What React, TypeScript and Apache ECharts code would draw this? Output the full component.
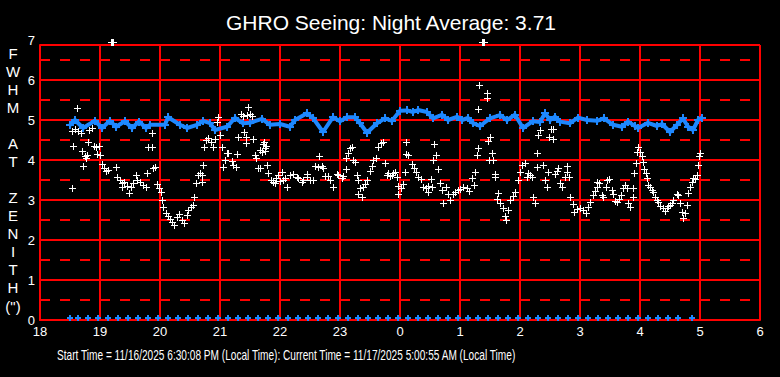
import React, { useEffect, useRef } from 'react';
import * as echarts from 'echarts';

const TITLE = 'GHRO Seeing: Night Average: 3.71';
const FOOTER = 'Start Time = 11/16/2025 6:30:08 PM (Local Time): Current Time = 11/17/2025 5:00:55 AM (Local Time)';
const Y_TITLE_LINES = ['F', 'W', 'H', 'M', '', 'A', 'T', '', 'Z', 'E', 'N', 'I', 'T', 'H', '(")'];
const START_HOUR = 18;
const X_MAX = 720; // minutes after 18:00
const Y_TOP_LABEL = '7';
const HALF_LINES = [0.5, 1.5, 2.5, 3.5, 4.5, 5.5, 6.5];

// [minutes after 18:00, FWHM arcsec] individual seeing samples (white)
const seeingSamples: [number, number][] = [
  [32, 4.73], [35, 4.78], [37, 5.3], [38, 4.73], [41, 4.68], [33, 4.35], [32, 3.3], [42, 4.22], [43, 3.85], [45, 4.1],
  [46, 4.05], [47, 4.12], [48, 4.45], [49, 4.75], [52, 4.8], [54, 4.35], [56, 4.32], [57, 4.15], [59, 4.35], [60, 4.12],
  [62, 3.9], [64, 3.8], [66, 3.72], [68, 3.75], [71, 6.95], [72, 6.95], [73, 6.95], [76, 3.82], [77, 3.58], [80, 3.5], [82, 3.42], [82, 3.33],
  [84, 3.45], [87, 3.35], [89, 3.17], [91, 3.33], [93, 3.42], [96, 3.62], [97, 3.5], [100, 3.45], [103, 3.37], [106, 3.33],
  [107, 3.67], [108, 4.33], [112, 4.33], [112, 4.67], [113, 3.8], [115, 3.83], [117, 3.4], [119, 3.3], [121, 3.2], [122, 3.0],
  [123, 2.83], [126, 2.67], [128, 2.6], [130, 2.52], [132, 2.45], [134, 2.38], [137, 2.58], [139, 2.65], [142, 2.5], [144, 2.43],
  [147, 2.63], [148, 2.75], [151, 2.83], [153, 2.88], [154, 3.08], [156, 3.42], [158, 3.62], [160, 3.67], [162, 3.62], [162, 3.45],
  [163, 3.87], [164, 4.33], [166, 4.5], [168, 4.55], [171, 4.45], [173, 4.33], [175, 4.52], [177, 4.95], [178, 5.08], [180, 4.62],
  [182, 4.33], [183, 3.83], [185, 4.0], [187, 4.17], [188, 4.17], [192, 3.98], [193, 3.87], [196, 3.82], [197, 4.15], [198, 4.58],
  [201, 5.15], [203, 5.1], [204, 4.7], [206, 4.58], [206, 4.42], [207, 5.12], [208, 5.33], [210, 5.15], [212, 5.1], [213, 4.52],
  [215, 4.12], [216, 4.05], [218, 3.8], [220, 3.8], [222, 4.2], [223, 4.4], [224, 4.45], [226, 4.35], [227, 3.87], [228, 3.67],
  [231, 3.5], [233, 3.45], [235, 3.43], [236, 3.55], [238, 3.62], [240, 3.48], [220, 4.25], [225, 4.3], [225, 4.22], [242, 3.7],
  [243, 3.5], [245, 3.55], [247, 3.33], [250, 3.62], [253, 3.65], [257, 3.58], [258, 3.55], [262, 3.45], [263, 3.5], [267, 3.65],
  [267, 3.58], [270, 3.5], [273, 3.5], [275, 3.85], [278, 3.83], [279, 4.1], [282, 3.85], [283, 3.8], [285, 3.6], [288, 3.6],
  [290, 3.5], [293, 3.33], [297, 3.65], [298, 3.62], [302, 3.55], [303, 3.6], [306, 3.77], [306, 4.05], [308, 4.17], [310, 4.3],
  [312, 4.33], [313, 4.0], [315, 3.95], [317, 3.62], [318, 3.5], [320, 3.3], [318, 3.15], [322, 3.08], [323, 3.33], [325, 3.4],
  [327, 3.5], [330, 3.72], [332, 3.85], [333, 4.0], [336, 4.05], [338, 4.33], [341, 4.43], [343, 4.45], [345, 3.93], [347, 3.62],
  [348, 3.67], [350, 3.6], [352, 3.62], [353, 3.67], [355, 3.7], [357, 3.58], [358, 3.35], [358, 3.15], [361, 3.3], [363, 3.4],
  [365, 3.7], [366, 4.45], [366, 4.15], [368, 4.13], [372, 3.9], [374, 3.8], [376, 3.7], [378, 3.58], [381, 3.52], [383, 3.33],
  [386, 3.3], [388, 3.35], [388, 3.2], [391, 3.52], [392, 3.33], [393, 4.0], [394, 4.4], [396, 4.12], [398, 3.77], [400, 3.43],
  [402, 3.25], [403, 2.93], [406, 3.33], [408, 3.15], [410, 3.0], [413, 3.15], [415, 3.2], [418, 3.25], [420, 3.27], [423, 3.33],
  [427, 3.3], [429, 3.23], [432, 3.55], [434, 3.37], [435, 3.7], [437, 4.12], [438, 4.3], [438, 5.27], [439, 5.88], [442, 6.95], [443, 6.95], [444, 6.95],
  [447, 5.67], [447, 5.55], [448, 4.48], [449, 4.0], [450, 4.58], [452, 4.17], [453, 4.0], [455, 3.65], [455, 3.58], [457, 3.03],
  [458, 3.17], [460, 2.93], [463, 2.8], [465, 2.6], [466, 2.5], [468, 2.75], [470, 3.0], [473, 3.1], [475, 3.2], [478, 3.5],
  [480, 3.7], [482, 3.87], [485, 3.92], [487, 3.58], [488, 3.67], [490, 3.63], [492, 3.58], [493, 3.08], [495, 2.93], [497, 3.83],
  [497, 4.17], [498, 4.62], [500, 4.75], [503, 3.87], [505, 3.5], [507, 3.33], [508, 3.7], [509, 4.57], [511, 4.78], [513, 4.78],
  [513, 4.52], [515, 3.65], [517, 3.72], [518, 3.8], [520, 3.42], [522, 3.33], [525, 3.58], [527, 3.7], [527, 3.85], [529, 3.58],
  [530, 3.08], [533, 2.9], [534, 2.7], [537, 2.77], [540, 2.8], [543, 2.75], [546, 2.67], [548, 2.83], [550, 2.95], [553, 3.13],
  [555, 3.23], [557, 3.33], [557, 3.45], [559, 3.42], [562, 3.13], [563, 3.08], [566, 3.33], [567, 3.5], [569, 3.52], [572, 3.25],
  [573, 3.15], [575, 2.98], [577, 2.95], [579, 3.03], [581, 3.13], [583, 3.3], [585, 3.37], [587, 3.3], [588, 2.93], [590, 2.83],
  [593, 3.08], [593, 3.3], [594, 3.67], [596, 3.93], [597, 4.2], [598, 4.33], [600, 4.2], [602, 4.1], [603, 3.95], [604, 3.77],
  [606, 3.67], [607, 3.55], [608, 3.37], [610, 3.33], [612, 3.25], [613, 3.2], [615, 3.08], [617, 3.0], [618, 2.95], [620, 2.85],
  [623, 2.8], [625, 2.73], [627, 2.8], [628, 2.85], [630, 2.88], [632, 2.93], [633, 3.0], [637, 3.15], [638, 3.13], [640, 2.93],
  [642, 2.7], [643, 2.55], [645, 2.67], [647, 2.88], [648, 3.17], [650, 3.33], [652, 3.45], [653, 3.55], [655, 3.52], [657, 3.62],
  [658, 3.87], [659, 4.1], [660, 4.17],
];

// [minutes after 18:00, FWHM arcsec] running average (blue band)
const averageSeeing: [number, number][] = [
  [30, 4.875], [35, 5.0], [43, 4.8], [55, 4.98], [62, 4.8], [70, 4.98], [76, 4.83], [85, 4.97], [92, 4.8], [99, 4.96],
  [106, 4.8], [110, 4.88], [125, 4.88], [128, 5.07], [140, 4.88], [147, 4.8], [157, 4.88], [163, 4.98], [170, 4.92], [175, 4.75],
  [187, 4.83], [195, 5.05], [203, 4.92], [210, 4.93], [222, 5.03], [230, 4.88], [240, 4.9], [250, 4.83], [255, 5.0], [267, 5.17],
  [273, 5.05], [283, 4.7], [293, 5.07], [300, 4.97], [307, 5.07], [315, 5.07], [320, 4.92], [327, 4.68], [337, 4.92], [345, 5.04],
  [352, 4.98], [360, 5.23], [367, 5.24], [373, 5.2], [378, 5.25], [387, 5.2], [393, 5.04], [402, 5.13], [408, 5.0], [417, 5.08],
  [422, 5.0], [428, 5.05], [433, 4.92], [440, 4.85], [450, 5.04], [460, 5.12], [467, 5.0], [475, 5.13], [483, 4.8], [493, 4.97],
  [500, 4.95], [505, 5.17], [510, 5.0], [515, 5.08], [520, 4.96], [530, 4.92], [538, 5.06], [547, 5.0], [557, 4.98], [564, 5.04],
  [573, 4.88], [582, 4.83], [588, 4.96], [595, 4.85], [598, 4.8], [608, 4.93], [617, 4.85], [622, 4.9], [630, 4.7], [637, 4.88],
  [643, 5.04], [648, 4.83], [653, 4.75], [658, 5.0], [662, 5.06],
];

// minutes after 18:00 of the zero-level markers along the bottom
const zeroMinutes = [
  30, 38, 48, 58, 68, 78, 88, 98, 108, 118, 128, 138, 148, 158, 168, 178, 188, 198, 208, 218, 228,
  238, 248, 258, 268, 278, 288, 298, 308, 318, 328, 338, 348, 358, 368, 378, 388, 398, 408, 418, 428,
  438, 448, 458, 468, 478, 488, 498, 508, 518, 528, 538, 548, 558, 568, 578, 588, 598, 608, 618, 628,
  638, 652,
];
const zeroValues = zeroMinutes.map(() => 0);

const FONT = '"Liberation Sans", Arial, sans-serif';
const RED = '#ff0000';
const BLUE = '#1e88ff';

// crisp "+" marker drawn at the pixel given by the axes' scales
function plusRenderer(fill: string, half: number, thick: number, dy: number) {
  return (params: any, api: any) => {
    const p = api.coord([api.value(0), api.value(1)]);
    const x = Math.round(p[0]);
    const y = Math.round(p[1]) + dy;
    const t0 = Math.floor(thick / 2);
    return {
      type: 'group',
      children: [
        { type: 'rect', shape: { x: x - half, y: y - t0, width: half * 2 + (thick % 2), height: thick }, style: { fill } },
        { type: 'rect', shape: { x: x - t0, y: y - half, width: thick, height: half * 2 + (thick % 2) }, style: { fill } },
      ],
    };
  };
}

export default function App() {
  const ref = useRef<HTMLDivElement>(null);
  useEffect(() => {
    document.body.style.margin = '0';
    document.body.style.background = '#000';
    if (!ref.current) return;
    const chart = echarts.init(ref.current, undefined, { renderer: 'svg' });

    let footerScale = 1;
    const ctx = document.createElement('canvas').getContext('2d');
    if (ctx) {
      ctx.font = '14px ' + FONT;
      const w = ctx.measureText(FOOTER).width;
      if (w > 0) footerScale = 460 / w;
    }

    chart.setOption({
      animation: false,
      backgroundColor: '#000',
      grid: { left: 40, right: 20, top: 45, bottom: 57 },
      xAxis: {
        type: 'value',
        min: 0,
        max: X_MAX,
        interval: 60,
        axisLine: { show: true, lineStyle: { color: RED, width: 2 } },
        axisTick: { show: false },
        splitLine: { show: true, lineStyle: { color: RED, width: 2 } },
        axisLabel: {
          color: '#fff',
          fontFamily: FONT,
          fontSize: 13,
          margin: 5,
          formatter: (v: number) => String((START_HOUR + Math.round(v / 60)) % 24),
        },
      },
      yAxis: {
        type: 'value',
        min: 0,
        max: 6.875,
        interval: 1,
        axisLine: { show: true, lineStyle: { color: RED, width: 2 } },
        axisTick: { show: false },
        splitLine: { show: true, lineStyle: { color: RED, width: 2 } },
        axisLabel: {
          color: '#fff',
          fontFamily: FONT,
          fontSize: 13,
          margin: 5,
          formatter: (v: number) => (Number.isInteger(v) ? String(v) : ''),
        },
      },
      graphic: [
        {
          type: 'text', x: 391, y: 22,
          style: { text: TITLE, fill: '#fff', fontFamily: FONT, fontSize: 21, align: 'center', verticalAlign: 'middle' },
        },
        {
          type: 'text', x: 35, y: 40,
          style: { text: Y_TOP_LABEL, fill: '#fff', fontFamily: FONT, fontSize: 13, align: 'right', verticalAlign: 'middle' },
        },
        {
          type: 'text', x: 13, y: 44,
          style: {
            text: Y_TITLE_LINES.join('\n'), fill: '#fff', fontFamily: FONT, fontSize: 15,
            lineHeight: 18.07, align: 'center', verticalAlign: 'top',
          },
        },
        {
          type: 'text', x: 57, y: 355, scaleX: footerScale, scaleY: 1,
          style: { text: FOOTER, fill: '#fff', fontFamily: FONT, fontSize: 14, align: 'left', verticalAlign: 'middle' },
        },
      ],
      series: [
        {
          type: 'custom',
          data: zeroMinutes.map((m, i) => [m, zeroValues[i]]),
          encode: { x: 0, y: 1 },
          renderItem: plusRenderer(BLUE, 3, 2, -2),
          clip: false,
          z: 3,
          markLine: {
            silent: true,
            symbol: 'none',
            label: { show: false },
            lineStyle: { color: RED, width: 2, type: [10, 10] },
            data: HALF_LINES.map((v) => ({ yAxis: v })),
          },
        },
        {
          type: 'line',
          data: averageSeeing,
          lineStyle: { color: BLUE, width: 4 },
          symbol: 'none',
          z: 4,
        },
        {
          type: 'custom',
          data: averageSeeing,
          encode: { x: 0, y: 1 },
          renderItem: plusRenderer(BLUE, 4, 2, 0),
          clip: false,
          z: 4,
        },
        {
          type: 'custom',
          data: seeingSamples,
          encode: { x: 0, y: 1 },
          renderItem: plusRenderer('#fff', 3, 1, 0),
          clip: false,
          z: 5,
        },
      ],
    });
    return () => chart.dispose();
  }, []);
  return <div ref={ref} style={{ position: 'absolute', left: 0, top: 0, width: 780, height: 377 }} />;
}
